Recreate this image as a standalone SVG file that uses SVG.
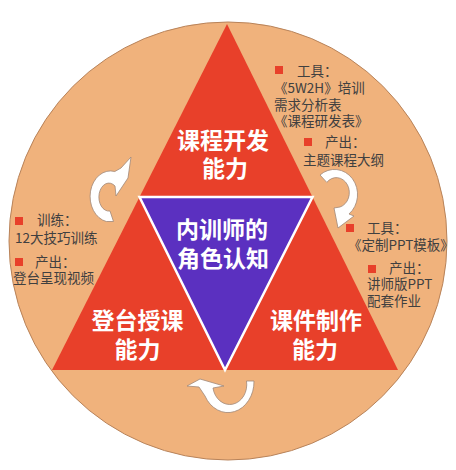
<svg xmlns="http://www.w3.org/2000/svg" width="456" height="470" viewBox="0 0 456 470">
<style>
.big{font-family:"Noto Sans CJK SC","Liberation Sans",sans-serif;font-weight:bold;font-size:23px;fill:#ffffff;text-anchor:middle}
.small{font-family:"Noto Sans CJK SC","Liberation Sans",sans-serif;font-size:13.5px;fill:#404040}
.bul{fill:#E8402A}
.arr{fill:#ffffff;stroke:#a08878;stroke-width:0.8;stroke-linejoin:round}
</style>
<rect width="456" height="470" fill="#ffffff"/>
<g id="background">
<circle cx="228" cy="241" r="219" fill="#F0B27C" stroke="#B8835A" stroke-width="1"/>
</g>
<g id="triangle-outer">
<polygon points="227,24 52,370 398,370" fill="#E8402A"/>
</g>
<g id="node-kecheng">
<text class="big" x="223" y="149">课程开发</text>
<text class="big" x="225" y="177">能力</text>
</g>
<g id="node-dengtai">
<text class="big" x="137.5" y="329">登台授课</text>
<text class="big" x="137.5" y="358">能力</text>
</g>
<g id="node-kejian">
<text class="big" x="316" y="329">课件制作</text>
<text class="big" x="315" y="358">能力</text>
</g>
<g id="node-center">
<polygon points="139.5,197 312.5,197 225,370" fill="#5B30C0" stroke="#ffffff" stroke-width="2.5" stroke-linejoin="miter"/>
<text class="big" x="222" y="238">内训师的</text>
<text class="big" x="223" y="267">角色认知</text>
</g>
<g id="connectors">
<path class="arr" d="M106.3,221.5 A20 25 0 1 1 114.8,171.5 L121,168 L131,157 L128,178 L116,196 L115,186 A10 14 0 1 0 110,211 L113.5,221.5 Z"/>
<path class="arr" d="M320,175 A23 25 0 1 1 349,214 L354,216 L338,228 L334,208 L340,207 A13 15 0 1 0 326.8,182.4 Z"/>
<path class="arr" d="M247,381 L254,381 A26 31 0 0 1 205,396 L199,387 L187,386 L200,379 L224,386 L213,388 A17 20 0 0 0 246.5,381 Z"/>
</g>
<g id="note-right-top">
<rect class="bul" x="275" y="66" width="8" height="8"/>
<text class="small" x="297" y="76">工具：</text>
<text class="small" x="274" y="93">《5W2H》培训</text>
<text class="small" x="274" y="110">需求分析表</text>
<text class="small" x="274" y="126">《课程研发表》</text>
<rect class="bul" x="304" y="138" width="8" height="8"/>
<text class="small" x="325" y="147">产出：</text>
<text class="small" x="303" y="165">主题课程大纲</text>
</g>
<g id="note-right-mid">
<rect class="bul" x="346" y="224" width="8" height="8"/>
<text class="small" x="367" y="233">工具：</text>
<text class="small" x="348" y="250">《定制PPT模板》</text>
<rect class="bul" x="368" y="265" width="8" height="8"/>
<text class="small" x="389" y="273">产出：</text>
<text class="small" x="367" y="289">讲师版PPT</text>
<text class="small" x="367" y="306">配套作业</text>
</g>
<g id="note-left">
<rect class="bul" x="15" y="217" width="8" height="8"/>
<text class="small" x="37" y="225">训练：</text>
<text class="small" x="15" y="243">12大技巧训练</text>
<rect class="bul" x="15" y="258" width="8" height="8"/>
<text class="small" x="35" y="267">产出：</text>
<text class="small" x="13" y="283">登台呈现视频</text>
</g>
</svg>
